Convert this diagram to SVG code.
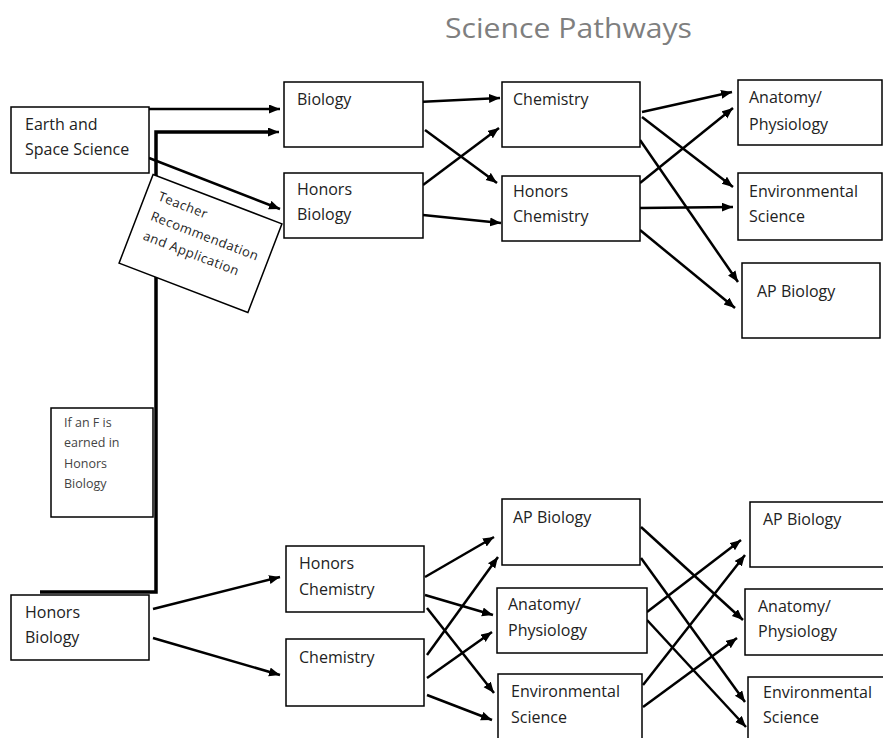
<svg xmlns="http://www.w3.org/2000/svg" width="883" height="738" viewBox="0 0 883 738">
<defs>
<marker id="ah" markerUnits="userSpaceOnUse" markerWidth="12" markerHeight="10" refX="11" refY="4.5" orient="auto">
<path d="M0,0 L11,4.5 L0,9 z" fill="#000"/>
</marker>
<style>
.box{fill:#fff;stroke:#000;stroke-width:1.5}
.t{font-family:"Open Sans","Liberation Sans",sans-serif;font-size:16px;fill:#222}
.s{font-family:"Open Sans","Liberation Sans",sans-serif;font-size:12.5px;fill:#444}
.r{font-family:"Open Sans","Liberation Sans",sans-serif;font-size:13px;fill:#222;letter-spacing:0.5px}
.c{stroke:#000;stroke-width:2.5;fill:none;marker-end:url(#ah)}
.thick{stroke:#000;stroke-width:3.5;fill:none}
</style>
</defs>
<rect width="883" height="738" fill="#fff"/>
<text x="445" y="38" font-family="'Open Sans','Liberation Sans',sans-serif" font-size="27" fill="#7f7f7f" textLength="247" lengthAdjust="spacingAndGlyphs">Science Pathways</text>

<g id="connectors">
<polyline class="thick" points="40,592 156,592 156,132 270,132"/>
<line class="c" x1="270" y1="132" x2="279" y2="132"/>
<line class="c" x1="149" y1="109" x2="280" y2="109"/>
<line class="c" x1="149" y1="158" x2="280" y2="209"/>
<line class="c" x1="418" y1="102" x2="500" y2="98"/>
<line class="c" x1="425" y1="130" x2="497" y2="183"/>
<line class="c" x1="423" y1="185" x2="499" y2="128"/>
<line class="c" x1="423" y1="215" x2="501" y2="223"/>
<line class="c" x1="642" y1="112" x2="732" y2="92"/>
<line class="c" x1="642" y1="117" x2="733" y2="187"/>
<line class="c" x1="640" y1="140" x2="738" y2="282"/>
<line class="c" x1="640" y1="183" x2="733" y2="108"/>
<line class="c" x1="640" y1="208" x2="733" y2="207"/>
<line class="c" x1="640" y1="230" x2="735" y2="308"/>
<line class="c" x1="153" y1="609" x2="280" y2="577"/>
<line class="c" x1="153" y1="638" x2="280" y2="675"/>
<line class="c" x1="425" y1="577" x2="494" y2="537"/>
<line class="c" x1="425" y1="595" x2="493" y2="615"/>
<line class="c" x1="427" y1="608" x2="494" y2="693"/>
<line class="c" x1="427" y1="655" x2="498" y2="557"/>
<line class="c" x1="427" y1="678" x2="492" y2="632"/>
<line class="c" x1="427" y1="695" x2="492" y2="720"/>
<line class="c" x1="641" y1="527" x2="743" y2="620"/>
<line class="c" x1="641" y1="558" x2="745" y2="702"/>
<line class="c" x1="647" y1="612" x2="741" y2="540"/>
<line class="c" x1="647" y1="620" x2="746" y2="727"/>
<line class="c" x1="643" y1="685" x2="745" y2="555"/>
<line class="c" x1="643" y1="707" x2="737" y2="638"/>
</g>

<g id="earth-space">
<rect class="box" x="11" y="107" width="138" height="66"/>
<text class="t" x="25" y="130">Earth and</text>
<text class="t" x="25" y="155">Space Science</text>
</g>
<g id="teacher-rec" transform="translate(200.5,243.5) rotate(21)">
<rect class="box" x="-69" y="-47.5" width="138" height="95"/>
<text class="r" x="-56" y="-25">Teacher</text>
<text class="r" x="-56" y="-4">Recommendation</text>
<text class="r" x="-56" y="17">and Application</text>
</g>
<g id="f-note">
<rect class="box" x="51" y="408" width="102" height="109"/>
<text class="s" x="64" y="427">If an F is</text>
<text class="s" x="64" y="447">earned in</text>
<text class="s" x="64" y="468">Honors</text>
<text class="s" x="64" y="488">Biology</text>
</g>
<g id="biology">
<rect class="box" x="284" y="82" width="139" height="65"/>
<text class="t" x="297" y="105">Biology</text>
</g>
<g id="honors-biology-top">
<rect class="box" x="284" y="173" width="139" height="65"/>
<text class="t" x="297" y="195">Honors</text>
<text class="t" x="297" y="220">Biology</text>
</g>
<g id="chemistry-top">
<rect class="box" x="502" y="82" width="138" height="65"/>
<text class="t" x="513" y="105">Chemistry</text>
</g>
<g id="honors-chemistry-top">
<rect class="box" x="502" y="176" width="138" height="65"/>
<text class="t" x="513" y="197">Honors</text>
<text class="t" x="513" y="222">Chemistry</text>
</g>
<g id="anatomy-top">
<rect class="box" x="738" y="80" width="144" height="65"/>
<text class="t" x="749" y="103">Anatomy/</text>
<text class="t" x="749" y="130">Physiology</text>
</g>
<g id="environmental-top">
<rect class="box" x="738" y="173" width="144" height="67"/>
<text class="t" x="749" y="197">Environmental</text>
<text class="t" x="749" y="222">Science</text>
</g>
<g id="ap-biology-top">
<rect class="box" x="742" y="263" width="138" height="75"/>
<text class="t" x="757" y="297">AP Biology</text>
</g>

<g id="honors-biology-bottom">
<rect class="box" x="11" y="595" width="138" height="65"/>
<text class="t" x="25" y="618">Honors</text>
<text class="t" x="25" y="643">Biology</text>
</g>
<g id="honors-chemistry-bottom">
<rect class="box" x="286" y="546" width="138" height="66"/>
<text class="t" x="299" y="569">Honors</text>
<text class="t" x="299" y="595">Chemistry</text>
</g>
<g id="chemistry-bottom">
<rect class="box" x="286" y="639" width="138" height="67"/>
<text class="t" x="299" y="663">Chemistry</text>
</g>
<g id="ap-biology-mid">
<rect class="box" x="502" y="499" width="138" height="66"/>
<text class="t" x="513" y="523">AP Biology</text>
</g>
<g id="anatomy-mid">
<rect class="box" x="497" y="588" width="150" height="65"/>
<text class="t" x="508" y="610">Anatomy/</text>
<text class="t" x="508" y="636">Physiology</text>
</g>
<g id="environmental-mid">
<rect class="box" x="498" y="674" width="144" height="70"/>
<text class="t" x="511" y="697">Environmental</text>
<text class="t" x="511" y="723">Science</text>
</g>
<g id="ap-biology-right">
<rect class="box" x="750" y="502" width="140" height="65"/>
<text class="t" x="763" y="525">AP Biology</text>
</g>
<g id="anatomy-right">
<rect class="box" x="745" y="589" width="145" height="66"/>
<text class="t" x="758" y="612">Anatomy/</text>
<text class="t" x="758" y="637">Physiology</text>
</g>
<g id="environmental-right">
<rect class="box" x="748" y="677" width="142" height="70"/>
<text class="t" x="763" y="698">Environmental</text>
<text class="t" x="763" y="723">Science</text>
</g>
</svg>
